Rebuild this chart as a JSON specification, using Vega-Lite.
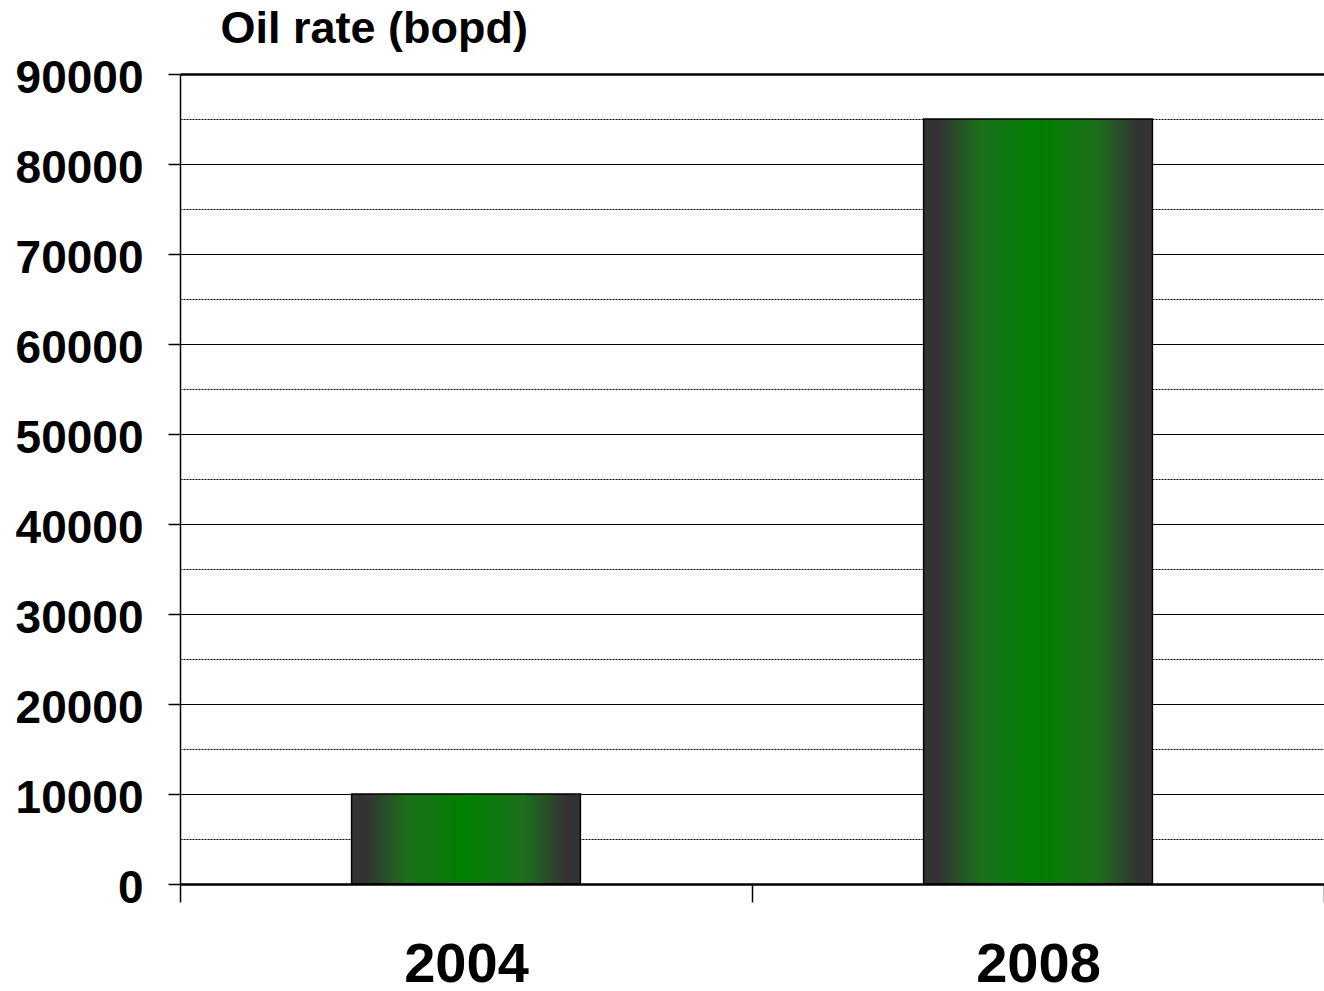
{
  "$schema": "https://vega.github.io/schema/vega-lite/v6.json",
  "autosize": "none",
  "padding": {"left": 180, "top": 74, "right": 0, "bottom": 107},
  "width": 1144,
  "height": 810,
  "background": "white",
  "data": {"values": [
    {"year": "2004", "rate": 10000},
    {"year": "2008", "rate": 85000}
  ]},
  "mark": {
    "type": "bar",
    "width": {"band": 0.4},
    "stroke": "#000000",
    "strokeWidth": 1.5,
    "color": {
      "gradient": "linear",
      "x1": 0, "x2": 1, "y1": 0, "y2": 0,
      "stops": [
        {"offset": 0, "color": "#333333"},
        {"offset": 0.06, "color": "#333333"},
        {"offset": 0.25, "color": "#1c701c"},
        {"offset": 0.5, "color": "#008000"},
        {"offset": 0.75, "color": "#1c701c"},
        {"offset": 0.94, "color": "#333333"},
        {"offset": 1, "color": "#333333"}
      ]
    }
  },
  "encoding": {
    "x": {
      "field": "year",
      "type": "nominal",
      "scale": {"paddingInner": 0, "paddingOuter": 0},
      "axis": {
        "title": null,
        "labelAngle": 0,
        "labelFont": "Liberation Sans",
        "labelFontWeight": "bold",
        "labelFontSize": 56,
        "labelColor": "#000000",
        "labelPadding": 35,
        "labelBaseline": "top",
        "tickBand": "extent",
        "tickSize": 18,
        "tickWidth": 1.5,
        "tickColor": "#000000",
        "domainColor": "#000000",
        "domainWidth": 2.5,
        "grid": false,
        "zindex": 1
      }
    },
    "y": {
      "field": "rate",
      "type": "quantitative",
      "scale": {"domain": [0, 90000], "nice": false},
      "axis": {
        "title": "Oil rate (bopd)",
        "titleAngle": 0,
        "titleAlign": "left",
        "titleBaseline": "alphabetic",
        "titleX": 40,
        "titleY": -32,
        "titleFont": "Liberation Sans",
        "titleFontWeight": "bold",
        "titleFontSize": 45,
        "titleColor": "#000000",
        "values": [0, 5000, 10000, 15000, 20000, 25000, 30000, 35000, 40000, 45000, 50000, 55000, 60000, 65000, 70000, 75000, 80000, 85000, 90000],
        "labelExpr": "datum.value % 10000 === 0 ? format(datum.value, 'd') : ''",
        "labelFont": "Liberation Sans",
        "labelFontWeight": "bold",
        "labelFontSize": 46,
        "labelColor": "#000000",
        "labelPadding": 25,
        "labelOffset": 4,
        "labelBaseline": "middle",
        "tickSize": 12,
        "tickWidth": 1.5,
        "tickColor": "#000000",
        "tickOpacity": {"condition": {"test": "datum.value % 10000 !== 0", "value": 0}, "value": 1},
        "domainColor": "#000000",
        "domainWidth": 1.5,
        "grid": true,
        "gridColor": "#000000",
        "gridOpacity": 1,
        "gridWidth": {"condition": {"test": "datum.value === 90000", "value": 2.5}, "value": 1},
        "gridDash": {"condition": {"test": "datum.value % 10000 !== 0", "value": [2, 1]}, "value": []}
      }
    }
  },
  "config": {"view": {"stroke": null}}
}
